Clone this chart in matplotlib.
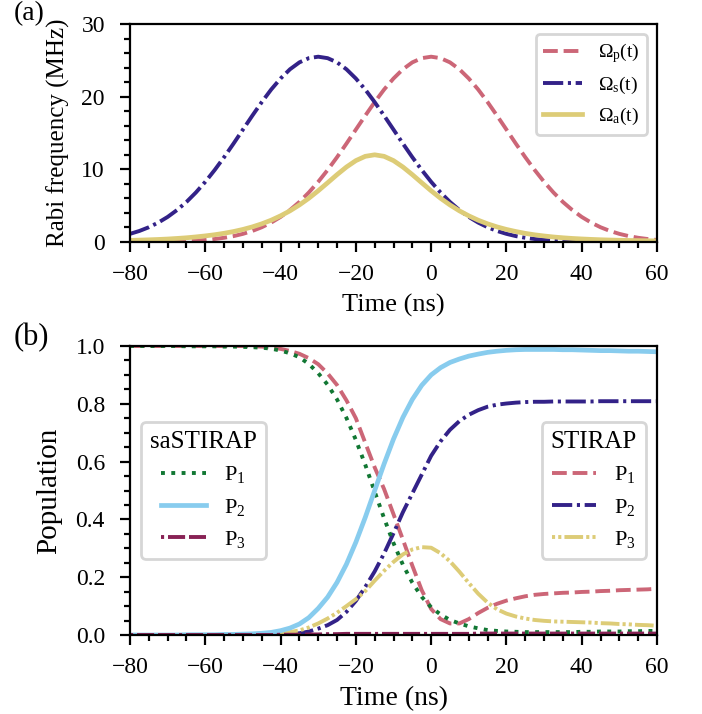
import matplotlib
matplotlib.use("Agg")
import matplotlib.pyplot as plt

plt.rcParams['font.family'] = ['Liberation Serif', 'DejaVu Serif']
plt.rcParams['mathtext.fontset'] = 'custom'
plt.rcParams['mathtext.rm'] = 'Liberation Serif'
plt.rcParams['mathtext.it'] = 'Liberation Serif:italic'
plt.rcParams['xtick.minor.visible'] = True
plt.rcParams['ytick.minor.visible'] = True

# ---------------- data ----------------
time_ns = [-80, -77.5, -75, -72.5, -70, -67.5, -65, -62.5, -60, -57.5, -55, -52.5,
           -50, -47.5, -45, -42.5, -40, -37.5, -35, -32.5, -30, -27.5, -25, -22.5,
           -20, -17.5, -15, -12.5, -10, -7.5, -5, -2.5, 0, 2.5, 5, 7.5, 10, 12.5,
           15, 17.5, 20, 22.5, 25, 27.5, 30, 32.5, 35, 37.5, 40, 42.5, 45, 47.5,
           50, 52.5, 55, 57.5, 60]

# panel (a): Rabi frequencies (MHz)
omega_p = [0.01, 0.01, 0.02, 0.04, 0.06, 0.09, 0.13, 0.19, 0.28, 0.41, 0.58, 0.81,
           1.12, 1.52, 2.03, 2.67, 3.45, 4.40, 5.51, 6.81, 8.28, 9.91, 11.67, 13.54,
           15.47, 17.39, 19.25, 20.98, 22.50, 23.77, 24.72, 25.30, 25.50, 25.30, 24.72,
           23.77, 22.50, 20.98, 19.25, 17.39, 15.47, 13.54, 11.67, 9.91, 8.28, 6.81,
           5.51, 4.40, 3.45, 2.67, 2.03, 1.52, 1.12, 0.81, 0.58, 0.41, 0.28]
omega_s = [1.12, 1.52, 2.03, 2.67, 3.45, 4.40, 5.51, 6.81, 8.28, 9.91, 11.67, 13.54,
           15.47, 17.39, 19.25, 20.98, 22.50, 23.77, 24.72, 25.30, 25.50, 25.30, 24.72,
           23.77, 22.50, 20.98, 19.25, 17.39, 15.47, 13.54, 11.67, 9.91, 8.28, 6.81,
           5.51, 4.40, 3.45, 2.67, 2.03, 1.52, 1.12, 0.81, 0.58, 0.41, 0.28, 0.19,
           0.13, 0.09, 0.06, 0.04, 0.02, 0.01, 0.01, 0.00, 0.00, 0.00, 0.00]
omega_a = [0.22, 0.26, 0.30, 0.35, 0.41, 0.49, 0.58, 0.70, 0.84, 1.00, 1.20, 1.44,
           1.73, 2.08, 2.50, 3.00, 3.60, 4.29, 5.10, 6.02, 7.05, 8.15, 9.27, 10.32,
           11.20, 11.79, 12.00, 11.79, 11.20, 10.32, 9.27, 8.15, 7.05, 6.02, 5.10,
           4.29, 3.60, 3.00, 2.50, 2.08, 1.73, 1.44, 1.19, 0.99, 0.83, 0.69, 0.58,
           0.49, 0.42, 0.36, 0.31, 0.27, 0.24, 0.21, 0.19, 0.17, 0.15]

# panel (b): populations
sa_p1 = [1.000, 1.000, 1.000, 1.000, 1.000, 1.000, 0.999, 0.999, 0.999, 0.999, 0.998, 0.998,
         0.997, 0.996, 0.994, 0.991, 0.984, 0.975, 0.961, 0.938, 0.906, 0.866, 0.815, 0.751,
         0.675, 0.589, 0.496, 0.404, 0.318, 0.243, 0.181, 0.132, 0.096, 0.071, 0.052,
         0.040, 0.030, 0.023, 0.017, 0.014, 0.012, 0.011, 0.010, 0.010, 0.010, 0.010,
         0.010, 0.010, 0.011, 0.011, 0.012, 0.012, 0.012, 0.013, 0.013, 0.014, 0.014]
sa_p2 = [0.000, 0.000, 0.000, 0.000, 0.000, 0.000, 0.001, 0.001, 0.001, 0.001, 0.002, 0.002,
         0.003, 0.004, 0.006, 0.009, 0.015, 0.024, 0.038, 0.060, 0.092, 0.131, 0.182, 0.245,
         0.321, 0.407, 0.500, 0.592, 0.678, 0.753, 0.815, 0.864, 0.900, 0.925, 0.943,
         0.955, 0.965, 0.972, 0.978, 0.982, 0.985, 0.987, 0.988, 0.988, 0.988, 0.988,
         0.987, 0.987, 0.986, 0.985, 0.984, 0.984, 0.983, 0.982, 0.982, 0.981, 0.980]
sa_p3 = [0.000, 0.000, 0.000, 0.000, 0.000, 0.000, 0.000, 0.000, 0.000, 0.000, 0.000, 0.000,
         0.000, 0.000, 0.000, 0.000, 0.001, 0.001, 0.001, 0.002, 0.002, 0.003, 0.003, 0.004,
         0.004, 0.004, 0.004, 0.004, 0.004, 0.004, 0.004, 0.004, 0.004, 0.004, 0.004,
         0.004, 0.004, 0.005, 0.005, 0.005, 0.005, 0.005, 0.005, 0.005, 0.005, 0.005,
         0.005, 0.005, 0.005, 0.005, 0.005, 0.005, 0.005, 0.005, 0.005, 0.005, 0.005]
st_p1 = [1.000, 1.000, 1.000, 1.000, 1.000, 1.000, 1.000, 1.000, 1.000, 1.000, 1.000, 1.000,
         1.000, 0.999, 0.998, 0.995, 0.990, 0.983, 0.973, 0.958, 0.937, 0.905, 0.865, 0.812,
         0.750, 0.665, 0.580, 0.505, 0.418, 0.330, 0.240, 0.155, 0.090, 0.055, 0.040,
         0.040, 0.055, 0.076, 0.094, 0.108, 0.119, 0.127, 0.134, 0.139, 0.142, 0.144,
         0.146, 0.147, 0.149, 0.150, 0.152, 0.153, 0.155, 0.156, 0.157, 0.158, 0.160]
st_p2 = [0.000, 0.000, 0.000, 0.000, 0.000, 0.000, 0.000, 0.000, 0.000, 0.000, 0.000, 0.000,
         0.000, 0.000, 0.001, 0.002, 0.003, 0.004, 0.006, 0.012, 0.022, 0.034, 0.052, 0.080,
         0.118, 0.166, 0.220, 0.282, 0.352, 0.425, 0.490, 0.555, 0.620, 0.670, 0.710,
         0.740, 0.762, 0.778, 0.790, 0.797, 0.801, 0.804, 0.806, 0.807, 0.807, 0.808,
         0.808, 0.808, 0.808, 0.808, 0.809, 0.809, 0.809, 0.809, 0.809, 0.809, 0.809]
st_p3 = [0.000, 0.000, 0.000, 0.000, 0.000, 0.000, 0.000, 0.000, 0.000, 0.000, 0.000, 0.000,
         0.001, 0.002, 0.003, 0.005, 0.007, 0.010, 0.016, 0.026, 0.040, 0.057, 0.077, 0.100,
         0.124, 0.152, 0.188, 0.222, 0.253, 0.279, 0.296, 0.304, 0.302, 0.283, 0.255,
         0.219, 0.180, 0.143, 0.112, 0.089, 0.074, 0.064, 0.057, 0.052, 0.049, 0.047,
         0.046, 0.045, 0.044, 0.043, 0.041, 0.040, 0.038, 0.037, 0.035, 0.034, 0.032]

xticks = [-80, -60, -40, -20, 0, 20, 40, 60]
yticks_a = [0, 10, 20, 30]
yticks_b = [0.0, 0.2, 0.4, 0.6, 0.8, 1.0]

# colours (Paul Tol muted)
ROSE, INDIGO, SAND = '#CC6677', '#332288', '#DDCC77'
GREEN, CYAN, WINE = '#117733', '#88CCEE', '#882255'

LW = 1.4
DASH = (3.8, 1.5)
DASHDOT = (5.2, 1.2, 0.8, 1.2)
DOTDOTDASH = (0.8, 0.8, 0.8, 0.8, 4.8, 0.8)
DOTDASHDASH = (0.8, 1.0, 4.4, 1.0, 4.4, 1.0)

fig = plt.figure(figsize=(3.51, 3.57), dpi=200)
ax1 = fig.add_axes([130/702, 1-242/714, 527/702, 218/714])
ax2 = fig.add_axes([130/702, 1-635/714, 527/702, 289/714])

# ---- panel (a)
ax1.plot(time_ns, omega_p, color=ROSE, lw=LW, dashes=DASH, label=r'$\mathrm{\Omega_p(t)}$')
ax1.plot(time_ns, omega_s, color=INDIGO, lw=LW, dashes=DASHDOT, label=r'$\mathrm{\Omega_s(t)}$')
ax1.plot(time_ns, omega_a, color=SAND, lw=1.7, label=r'$\mathrm{\Omega_a(t)}$')
ax1.set_xlim(-80, 60)
ax1.set_ylim(0, 30)
ax1.set_xticks(xticks)
ax1.set_yticks(yticks_a)
ax1.set_xlabel('Time (ns)', fontsize=9.5, labelpad=3)
ax1.set_ylabel('Rabi frequency (MHz)', fontsize=9, labelpad=4)
ax1.legend(loc='upper right', fontsize=7)

# ---- panel (b)
l_p1, = ax2.plot(time_ns, st_p1, color=ROSE, lw=LW, dashes=DASH, label=r'$\mathrm{P_1}$')
l_p2, = ax2.plot(time_ns, st_p2, color=INDIGO, lw=LW, dashes=DASHDOT, label=r'$\mathrm{P_2}$')
l_p3, = ax2.plot(time_ns, st_p3, color=SAND, lw=LW, dashes=DOTDOTDASH, label=r'$\mathrm{P_3}$')
s_p1, = ax2.plot(time_ns, sa_p1, color=GREEN, lw=LW, ls=':', label=r'$\mathrm{P_1}$')
s_p2, = ax2.plot(time_ns, sa_p2, color=CYAN, lw=1.7, label=r'$\mathrm{P_2}$')
s_p3, = ax2.plot(time_ns, sa_p3, color=WINE, lw=LW, dashes=DOTDASHDASH, label=r'$\mathrm{P_3}$')
ax2.set_xlim(-80, 60)
ax2.set_ylim(0, 1.0)
ax2.set_xticks(xticks)
ax2.set_yticks(yticks_b)
ax2.set_xlabel('Time (ns)', fontsize=10, labelpad=3)
ax2.set_ylabel('Population', fontsize=10.5, labelpad=5)
leg1 = ax2.legend(handles=[s_p1, s_p2, s_p3], loc='center left', fontsize=8,
                  title='saSTIRAP', title_fontsize=9)
ax2.add_artist(leg1)
ax2.legend(handles=[l_p1, l_p2, l_p3], loc='center right', fontsize=8,
           title='STIRAP', title_fontsize=9)

for ax in (ax1, ax2):
    ax.tick_params(which='major', length=3.5, width=0.8, labelsize=8.5)
    ax.tick_params(which='minor', length=2, width=0.8)
    ax.tick_params(axis='y', which='major', pad=5.5)
    ax.tick_params(axis='x', which='major', pad=4.5)

fig.text(14/702, 1-1/714, '(a)', fontsize=10, va='top', ha='left')
fig.text(14/702, 1-323/714, '(b)', fontsize=11, va='top', ha='left')

fig.savefig('out.png', dpi=200)
